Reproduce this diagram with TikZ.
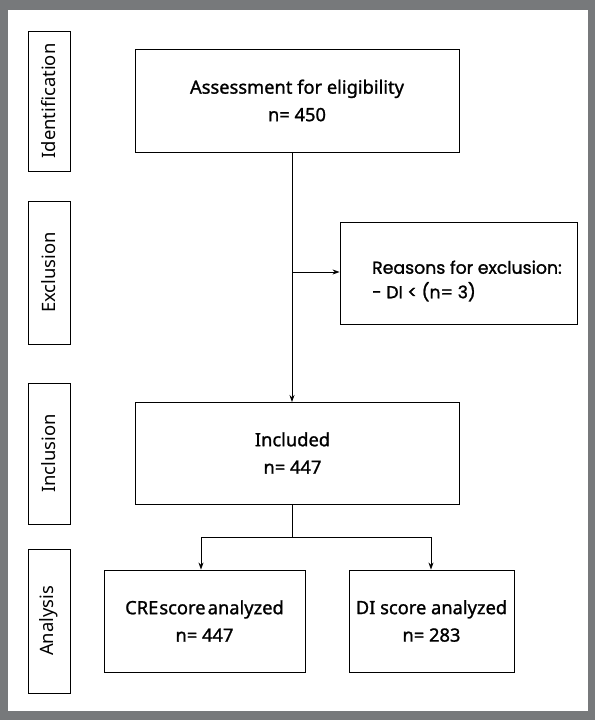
\documentclass[tikz,border=0pt]{standalone}
\usepackage{fontspec}
\setmainfont{Noto Sans}
\newfontfamily\popfont{Poppins}[FakeBold=1.3]
\newfontfamily\medfont{Noto Sans}[FakeBold=1.2]
\usetikzlibrary{arrows.meta}
\definecolor{framegray}{HTML}{77797B}
\tikzset{
  box/.style={draw=black, line width=0.9pt, rectangle, inner sep=0pt, align=center, font=\medfont\fontsize{18.3}{27.5}\selectfont},
  side/.style={draw=black, line width=0.9pt, rectangle, inner sep=0pt, minimum width=42pt, font=\fontsize{18.4}{19}\selectfont},
  conn/.style={line width=0.8pt},
  arr/.style={line width=0.8pt, -{Stealth[length=7pt,width=5pt]}}
}
\begin{document}
\begin{tikzpicture}[x=1pt,y=-1pt]
\useasboundingbox (0,0) rectangle (595,720);
\fill[framegray] (0,0) rectangle (595,720);
\fill[white] (8,10) rectangle (588,711);
% side labels
\node[side, minimum height=140pt] (sid) at (49,101) {\rotatebox{90}{Identification}};
\node[side, minimum height=143pt] (sex) at (49,272.5) {\rotatebox{90}{Exclusion}};
\node[side, minimum height=141pt] (sin) at (49,453.5) {\rotatebox{90}{Inclusion}};
\node[side, minimum height=144pt] (san) at (49,621) {\rotatebox{90}{Analysis}};
% main boxes
\node[box, minimum width=324pt, minimum height=103pt] (assess) at (297,100.5) {Assessment for eligibility\\n= 450};
\node[box, minimum width=237pt, minimum height=102pt] (excl) at (458.5,273) {};
\node[anchor=west, align=left, inner sep=0pt, font=\popfont\fontsize{17.3}{24.5}\selectfont] (excltext) at (372,281) {Reasons for exclusion:\\- DI < (n= 3)};
\node[box, minimum width=324pt, minimum height=102pt] (incl) at (297,453) {\hspace*{-9pt}Included\\\hspace*{-9pt}n= 447};
\node[box, minimum width=201pt, minimum height=102pt] (cre) at (204.5,621) {CRE\hspace{0.06em}score\hspace{0.12em}analyzed\\n= 447};
\node[box, minimum width=165pt, minimum height=102pt] (di) at (431.5,621) {DI score analyzed\\n= 283};
% connectors
\coordinate (top) at (292,152);
\coordinate (mid) at (292,272);
\coordinate (split) at (292,537);
\draw[conn] (top) -- (mid);
\draw[arr] (mid) -- (excl.west |- mid);
\draw[arr] (mid) -- (292,402) coordinate (inclin);
\draw[conn] (incl.south -| split) -- (split);
\draw[conn] (split) -- (201,537) coordinate (lft);
\draw[conn] (split) -- (431,537) coordinate (rgt);
\draw[arr] (lft) -- (lft |- cre.north);
\draw[arr] (rgt) -- (rgt |- di.north);
\end{tikzpicture}
\end{document}
